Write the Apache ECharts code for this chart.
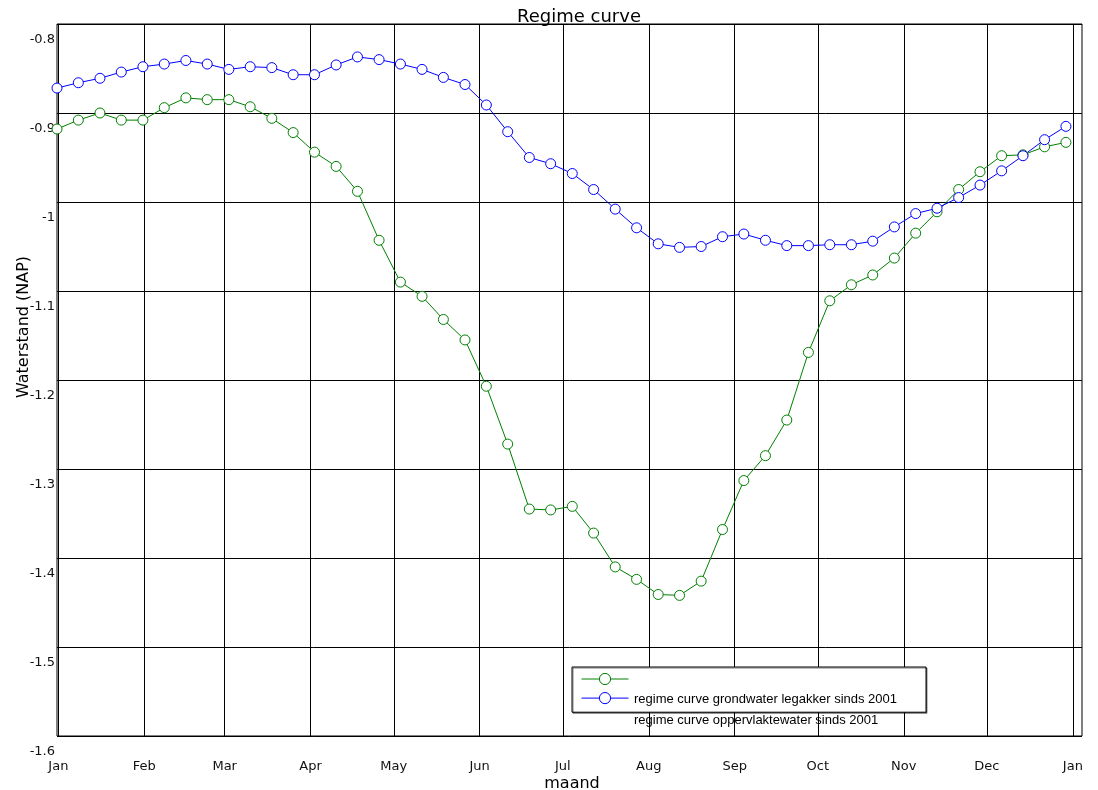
<!DOCTYPE html>
<html>
<head>
<meta charset="utf-8">
<script src="https://cdn.jsdelivr.net/npm/echarts@6/dist/echarts.min.js"></script>
<style>
html,body{margin:0;padding:0;background:#fff;}
#chart{width:1098px;height:790px;}
</style>
</head>
<body>
<div id="chart"></div>
<script>
// Sample dates (day of leap year, Jan 1 = 0)
var sampleDays = [-0.5, 7.2, 15.0, 22.7, 30.5, 38.2, 46.0, 53.7, 61.5, 69.2, 77.0, 84.7,
  92.4, 100.2, 107.9, 115.7, 123.4, 131.2, 138.9, 146.7, 154.4, 162.1, 169.9, 177.6,
  185.4, 193.1, 200.9, 208.6, 216.4, 224.1, 231.9, 239.6, 247.3, 255.1, 262.8, 270.6,
  278.3, 286.1, 293.8, 301.6, 309.3, 317.0, 324.8, 332.5, 340.3, 348.0, 355.8, 363.5];

var groundwater = [-0.918, -0.908, -0.900, -0.908, -0.908, -0.894, -0.883, -0.885, -0.885, -0.893,
  -0.906, -0.922, -0.944, -0.960, -0.988, -1.043, -1.090, -1.106, -1.132, -1.155,
  -1.207, -1.272, -1.345, -1.346, -1.342, -1.372, -1.410, -1.424, -1.441, -1.442,
  -1.426, -1.368, -1.313, -1.285, -1.245, -1.169, -1.111, -1.093, -1.082, -1.063,
  -1.035, -1.011, -0.986, -0.966, -0.948, -0.947, -0.938, -0.933];

var surfacewater = [-0.872, -0.866, -0.861, -0.854, -0.848, -0.845, -0.841, -0.845, -0.851, -0.848,
  -0.849, -0.857, -0.857, -0.846, -0.837, -0.840, -0.845, -0.851, -0.860, -0.868,
  -0.891, -0.921, -0.950, -0.957, -0.968, -0.986, -1.008, -1.029, -1.047, -1.051,
  -1.050, -1.039, -1.036, -1.043, -1.049, -1.049, -1.048, -1.048, -1.044, -1.028,
  -1.013, -1.007, -0.995, -0.981, -0.965, -0.948, -0.930, -0.915];

var monthStarts = [0, 31, 60, 91, 121, 152, 182, 213, 244, 274, 305, 335, 366];
var monthLabels = ['Jan', 'Feb', 'Mar', 'Apr', 'May', 'Jun', 'Jul', 'Aug', 'Sep', 'Oct', 'Nov', 'Dec', 'Jan'];

var nameGround = 'regime curve grondwater legakker sinds 2001';
var nameSurface = 'regime curve oppervlaktewater sinds 2001';

function pairs(xs, ys) {
  var out = [];
  for (var i = 0; i < ys.length; i++) out.push([xs[i], ys[i]]);
  return out;
}

var chart = echarts.init(document.getElementById('chart'), null, {renderer: 'canvas'});
var axisFont = 'DejaVu Sans';

var option = {
  animation: false,
  backgroundColor: '#fff',
  title: {
    text: 'Regime curve',
    left: 517, top: 7, padding: 0,
    textStyle: {fontFamily: axisFont, fontSize: 18, fontWeight: 'normal', color: '#000', lineHeight: 21}
  },
  grid: {
    left: 57, top: 24, right: 16, bottom: 54,
    show: true, borderColor: '#000', borderWidth: 1,
    containLabel: false, outerBoundsMode: 'none'
  },
  legend: [
    {
      data: [nameGround, nameSurface],
      orient: 'vertical',
      left: 572, top: 667,
      padding: [5, 297, 8, 9],
      itemWidth: 47, itemHeight: 14, itemGap: 6,
      formatter: function () { return ''; },
      itemStyle: {borderWidth: 1},
      lineStyle: {width: 1},
      backgroundColor: '#fff',
      borderColor: '#000', borderWidth: 1, borderRadius: 0,
      shadowColor: 'rgba(0,0,0,0.5)', shadowOffsetX: 1, shadowOffsetY: 1, shadowBlur: 0,
      textStyle: {fontSize: 1},
      selectedMode: false,
      z: 5
    },
    {
      data: [nameGround, nameSurface],
      orient: 'vertical',
      left: 581, top: 692,
      padding: 0,
      itemWidth: 47, itemHeight: 10, itemGap: 7,
      itemStyle: {opacity: 0},
      lineStyle: {opacity: 0},
      textStyle: {fontFamily: 'Liberation Sans', fontSize: 13, color: '#000', lineHeight: 14},
      selectedMode: false,
      z: 6
    }
  ],
  xAxis: {
    type: 'value',
    min: -0.5,
    max: 369.3,
    name: 'maand',
    nameLocation: 'middle',
    nameGap: 40,
    nameMoveOverlap: false,
    nameTextStyle: {fontFamily: axisFont, fontSize: 16, color: '#000', padding: [0, 0, 0, 5]},
    axisLine: {show: false},
    axisTick: {show: true, inside: true, length: 8, customValues: monthStarts, lineStyle: {color: '#000'}},
    axisLabel: {
      customValues: monthStarts,
      margin: 23,
      fontFamily: axisFont, fontSize: 13, color: '#111', lineHeight: 15,
      formatter: function (v) {
        var i = monthStarts.indexOf(Math.round(v));
        return i >= 0 ? monthLabels[i] : '';
      }
    },
    splitLine: {show: true, lineStyle: {color: '#000', width: 1}}
  },
  yAxis: {
    type: 'value',
    min: -1.6,
    max: -0.8,
    interval: 0.1,
    name: 'Waterstand (NAP)',
    nameLocation: 'middle',
    nameGap: 25,
    nameMoveOverlap: false,
    nameTextStyle: {fontFamily: axisFont, fontSize: 16, color: '#000', padding: [0, 0, 0, 106]},
    axisLine: {show: false},
    axisTick: {show: true, inside: true, length: 8, lineStyle: {color: '#000'}},
    axisLabel: {
      margin: 2,
      verticalAlign: 'top',
      padding: [8, 0, 0, 0],
      fontFamily: axisFont, fontSize: 13, color: '#111', lineHeight: 15,
      showMinLabel: true, showMaxLabel: true,
      formatter: function (v) { return String(Math.round(v * 10) / 10); }
    },
    splitLine: {show: true, lineStyle: {color: '#000', width: 1}}
  },
  series: [
    {
      name: nameGround,
      type: 'line',
      data: pairs(sampleDays, groundwater),
      symbol: 'circle',
      symbolSize: 10,
      showAllSymbol: true,
      itemStyle: {color: '#fff', borderColor: '#008000', borderWidth: 1},
      lineStyle: {color: '#008000', width: 1},
      emphasis: {disabled: true}
    },
    {
      name: nameSurface,
      type: 'line',
      data: pairs(sampleDays, surfacewater),
      symbol: 'circle',
      symbolSize: 10,
      showAllSymbol: true,
      itemStyle: {color: '#fff', borderColor: '#0000ff', borderWidth: 1},
      lineStyle: {color: '#0000ff', width: 1},
      emphasis: {disabled: true}
    }
  ]
};
chart.setOption(option);
</script>
</body>
</html>
